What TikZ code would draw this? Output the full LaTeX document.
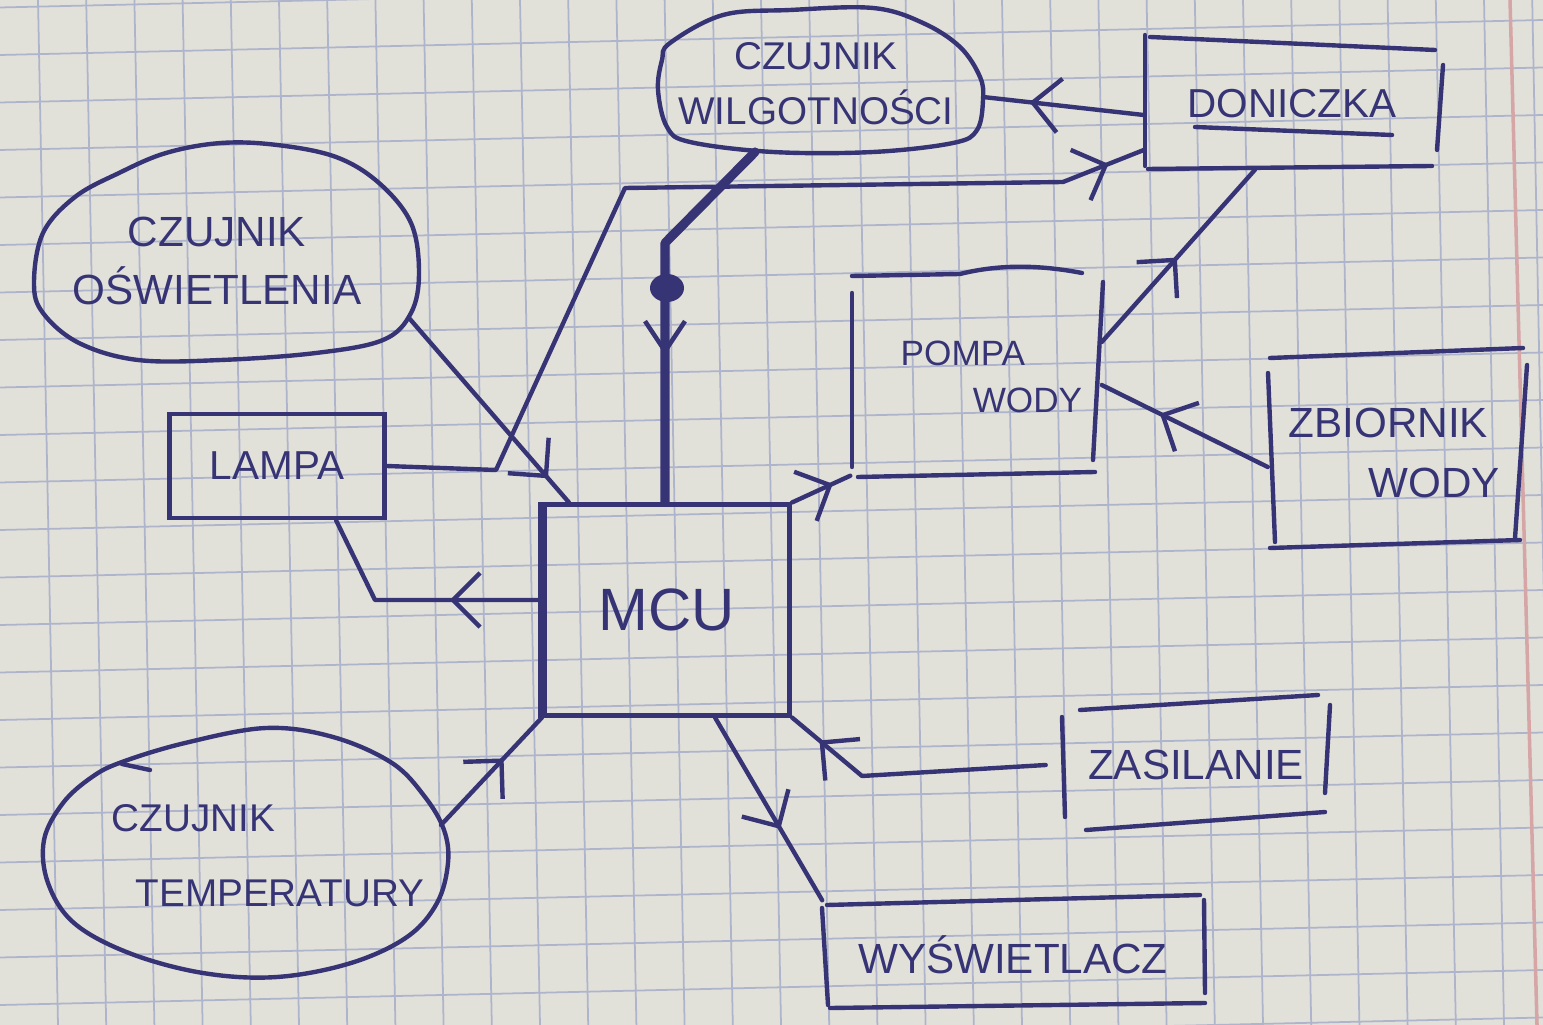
\documentclass[tikz,border=0pt]{standalone}
\usepackage{fontspec}
\setmainfont{Liberation Sans}
\usetikzlibrary{arrows.meta,decorations.markings}
\definecolor{ink}{RGB}{55,52,118}
\definecolor{paper}{RGB}{225,225,218}
\definecolor{gridc}{RGB}{174,180,204}
\definecolor{marginc}{RGB}{214,165,165}
\begin{document}
\begin{tikzpicture}[x=0.01cm,y=-0.01cm,
  pen/.style={draw=ink,line width=1.25pt,line cap=round,line join=round},
  thickpen/.style={draw=ink,line width=2.6pt,line cap=round,line join=round},
  gridline/.style={draw=gridc,line width=0.5pt},
  txt/.style={text=ink,inner sep=0pt,font=\fontsize{12}{15}\selectfont},
  box/.style={draw=none,inner sep=0pt,text=ink,font=\fontsize{12}{15}\selectfont},
  midarrow/.style={postaction={decorate},decoration={markings,mark=at position #1 with {\arrow[ink]{Straight Barb[length=2.7mm,width=5.4mm,line width=1.25pt]}}}},
  narrowarrow/.style={postaction={decorate},decoration={markings,mark=at position #1 with {\arrow[ink]{Straight Barb[length=3mm,width=4mm,line width=1.3pt]}}}}
]
\useasboundingbox (0,0) rectangle (1543,1025);
\fill[paper] (0,0) rectangle (1543,1025);
\begin{scope}
\clip (0,0) rectangle (1543,1025);
\foreach \k in {0,...,31} \draw[gridline] ({38+48.2*\k},0) -- ({58+48.2*\k},1025);
\foreach \k in {-1,...,21} \draw[gridline] (0,{55+47.5*\k}) -- (1543,{20+47.5*\k});
\draw[marginc,line width=1pt] (1510,0) -- (1537,1025);
\end{scope}

% ---------- blobs (sensors) ----------
\draw[pen] plot[smooth cycle,tension=0.6] coordinates {(670,43) (723,15) (790,10) (873,8) (923,23) (960,47) (980,77) (983,100) (977,130) (953,143) (873,152) (773,152) (690,142) (667,127) (658,90) (662,60)};
\node[txt,align=center,font=\fontsize{11}{15.6}\selectfont] (cw) at (816,84) {CZUJNIK\\WILGOTNOŚCI};
\coordinate (cw-b) at (755,152);
\coordinate (cw-e) at (983,97);

\draw[pen] plot[smooth cycle,tension=0.6] coordinates {(34,283) (43,233) (75,197) (119,173) (166,153) (221,143) (277,145) (336,157) (379,183) (411,223) (419,273) (411,313) (383,340) (316,353) (221,360) (138,360) (79,343) (43,313)};
\node[txt,align=center,font=\fontsize{12}{16.4}\selectfont] (co) at (217,261) {CZUJNIK\\OŚWIETLENIA};
\coordinate (co-p) at (409,318);

\draw[pen] plot[smooth cycle,tension=0.6] coordinates {(122,762) (185,743) (266,728) (333,737) (392,763) (425,797) (444,830) (448,863) (437,903) (407,937) (351,963) (277,977) (203,973) (129,953) (74,923) (48,883) (44,840) (63,803) (92,777)};
\draw[pen] (122,764) -- (150,770);
\node[txt,align=left,anchor=west,font=\fontsize{11}{21.3}\selectfont] (ct) at (111,856) {CZUJNIK\\\hspace*{0.24cm}TEMPERATURY};
\coordinate (ct-p) at (441,825);

% ---------- boxes ----------
\node[draw=ink,line width=1.4pt,minimum width=2.45cm,minimum height=2.1cm,inner sep=0pt,text=ink,font=\fontsize{17}{20}\selectfont] (mcu) at (667,610) {MCU};
\draw[ink,line width=2.4pt] (mcu.north west) -- (mcu.south west);

\node[draw=ink,line width=1.25pt,minimum width=2.15cm,minimum height=1.04cm,inner sep=0pt,text=ink,font=\fontsize{11.5}{14}\selectfont] (lampa) at (277,466) {LAMPA};

\node[box,minimum width=2.95cm,minimum height=1.3cm,font=\fontsize{11.5}{14}\selectfont] (dk) at (1292,104) {DONICZKA};
\draw[pen] (1150,37) -- (1435,50);
\draw[pen] (1145,35) -- (1145,166);
\draw[pen] (1443,65) -- (1437,150);
\draw[pen] (1148,169) -- (1432,166);
\draw[pen] (1195,127) -- (1392,135);

\node[box,minimum width=2.5cm,minimum height=2.0cm] (pompa) at (976,375) {};
\node[txt,align=left,anchor=west,font=\fontsize{10}{13.3}\selectfont] (pompa-t) at (900,377) {POMPA\\\hspace*{0.72cm}WODY};
\draw[pen] (852,276) -- (960,274) .. controls (1000,264) and (1040,265) .. (1082,273);
\draw[pen] (852,293) -- (852,467);
\draw[pen] (1103,282) -- (1093,460);
\draw[pen] (858,477) -- (1095,472);

\node[box,minimum width=2.55cm,minimum height=1.92cm] (zb) at (1396,450) {};
\node[txt,align=left,anchor=west,font=\fontsize{12}{17}\selectfont] (zb-t) at (1288,453) {ZBIORNIK\\\hspace*{0.8cm}WODY};
\draw[pen] (1270,358) -- (1523,348);
\draw[pen] (1268,373) -- (1275,542);
\draw[pen] (1527,365) -- (1515,538);
\draw[pen] (1270,548) -- (1520,540);

\node[box,minimum width=2.67cm,minimum height=1.3cm] (zas) at (1196,765) {ZASILANIE};
\draw[pen] (1062,717) -- (1065,817);
\draw[pen] (1080,710) -- (1318,695);
\draw[pen] (1330,705) -- (1325,793);
\draw[pen] (1086,830) -- (1325,812);

\node[box,minimum width=3.8cm,minimum height=1.08cm] (wy) at (1013,955) {WYŚWIETLACZ};
\draw[pen] (827,905) -- (1200,895);
\draw[pen] (822,908) -- (828,1005);
\draw[pen] (1204,900) -- (1205,993);
\draw[pen] (830,1008) -- (1205,1003);

% ---------- connectors ----------
\draw[pen,midarrow=0.87] (co-p) -- ([xshift=0.27cm]mcu.north west);
\draw[pen,midarrow=0.36] ([yshift=0.1cm]mcu.west) -- (375,600) -- ([xshift=0.59cm]lampa.south);
\draw[pen,midarrow=0.96] (lampa.east) -- (496,470) -- (625,188) -- (1063,182) -- ([yshift=-0.46cm]dk.west);
\draw[thickpen,narrowarrow=0.62] (cw-b) -- (665,243) -- ([xshift=-0.02cm]mcu.north);
\fill[ink] (667,288) ellipse [x radius=0.17cm, y radius=0.14cm];
\draw[pen,midarrow=0.71] ([yshift=-0.11cm]dk.west) -- (cw-e);
\draw[pen,midarrow=0.49] ([yshift=0.33cm]pompa.east) -- ([xshift=-0.37cm]dk.south);
\draw[pen,midarrow=0.65] ([yshift=-0.17cm]zb.west) -- ([yshift=-0.1cm]pompa.east);
\draw[pen,midarrow=0.7] (mcu.north east) -- (pompa.south west);
\draw[pen,midarrow=0.62] (ct-p) -- (mcu.south west);
\draw[pen,midarrow=0.61] ([xshift=0.48cm]mcu.south) -- (wy.north west);
\draw[pen,midarrow=0.87] ([xshift=-0.16cm]zas.west) -- (862,776) -- (mcu.south east);
\end{tikzpicture}
\end{document}
